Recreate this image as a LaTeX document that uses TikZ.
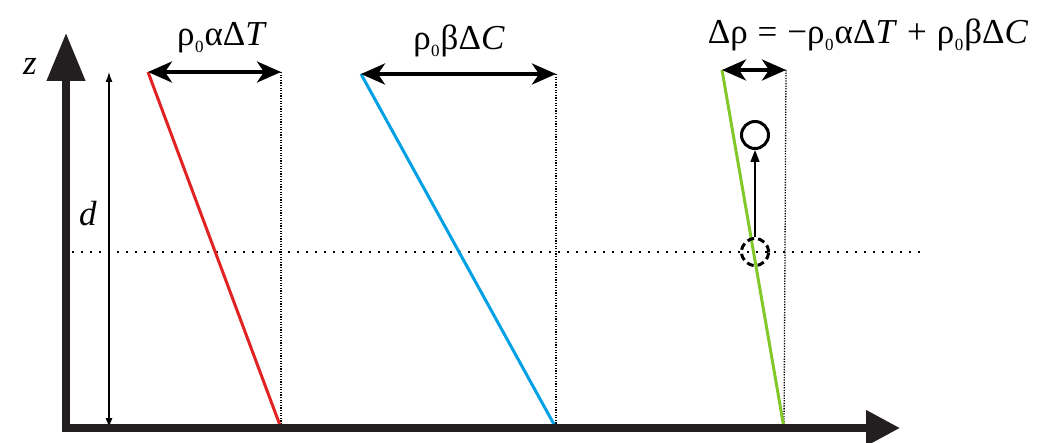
\documentclass[tikz,border=0pt]{standalone}
\usepackage{fontspec}
\setmainfont{Liberation Serif}
\usetikzlibrary{arrows.meta}
\definecolor{axisc}{RGB}{35,31,32}
\definecolor{redl}{RGB}{225,35,35}
\definecolor{bluel}{RGB}{0,160,228}
\definecolor{greenl}{RGB}{130,200,40}
\newcommand{\subz}{\kern0.5pt\raisebox{-0.4ex}{\fontsize{17}{17}\selectfont 0}\kern1pt}
\tikzset{
  axisline/.style={line width=7.5pt, draw=axisc},
  profile/.style={line width=3pt},
  span/.style={line width=3.8pt, draw=black, {Stealth[length=24pt,width=21pt,inset=7pt]}-{Stealth[length=24pt,width=21pt,inset=7pt]}},
  guide/.style={line width=1.3pt, dash pattern=on 1.3pt off 1.3pt},
  level/.style={line width=1.5pt, dash pattern=on 1.5pt off 7.5pt},
  lbl/.style={font=\fontsize{35}{35}\selectfont, inner sep=0pt},
  parcel/.style={circle, draw=black, line width=3pt, minimum size=27pt, inner sep=0pt}
}
\begin{document}
\begin{tikzpicture}[x=1pt,y=-1pt]
\useasboundingbox (0,0) rectangle (1054,443);
% coordinates
\coordinate (ztip) at (66,33);
\coordinate (xtip) at (900,428);
\coordinate (rT) at (148,72); \coordinate (rB) at (281,428); \coordinate (rR) at (281,72);
\coordinate (bT) at (361,74); \coordinate (bB) at (556,428); \coordinate (bR) at (556,74);
\coordinate (gT) at (722,70); \coordinate (gB) at (784,428); \coordinate (gR) at (786,70);
\coordinate (dT) at (109,72); \coordinate (dB) at (109,428);
\coordinate (hL) at (72,252); \coordinate (hR) at (920,252);
% guides
\draw[guide] (rR) -- (rB);
\draw[guide] (bR) -- (bB);
\draw[guide] (gR) -- (gB);
\draw[level] (hL) -- (hR);
% profiles
\draw[profile, redl] (rT) -- (rB);
\draw[profile, bluel] (bT) -- (bB);
\draw[profile, greenl] (gT) -- (gB);
% d arrow
\draw[line width=1.2pt, {Latex[length=10pt,width=7pt]}-{Latex[length=10pt,width=7pt]}] (dT) -- (dB);
% axes
\draw[axisline, -{Triangle[length=48pt,width=37pt]}] (66,432) -- (ztip);
\draw[axisline, -{Triangle[length=34pt,width=34pt]}] (62,428) -- (xtip);
% spans
\draw[span] (rT) -- (rR);
\draw[span] (bT) -- (bR);
\draw[span] (gT) -- (gR);
% parcels
\node[parcel, dashed, dash pattern=on 7pt off 4pt] (p0) at (755,252) {};
\node[parcel] (p1) at (755,135) {};
\draw[line width=1.3pt, -{Triangle[length=12pt,width=9pt]}] (p0.north) -- (p1.south);
% labels
\node[lbl] (zl) at (30,66) {\textit{z}};
\node[lbl] (dl) at (88,214) {\textit{d}};
\node[lbl] (l1) at (222,38) {ρ\subz αΔ\textit{T}};
\node[lbl] (l2) at (459,41) {ρ\subz βΔ\textit{C}};
\node[lbl] (l3) at (868,35) {Δρ\kern10pt=\kern10pt−ρ\subz αΔ\textit{T}\kern10pt+\kern10pt ρ\subz βΔ\textit{C}};
\end{tikzpicture}
\end{document}
